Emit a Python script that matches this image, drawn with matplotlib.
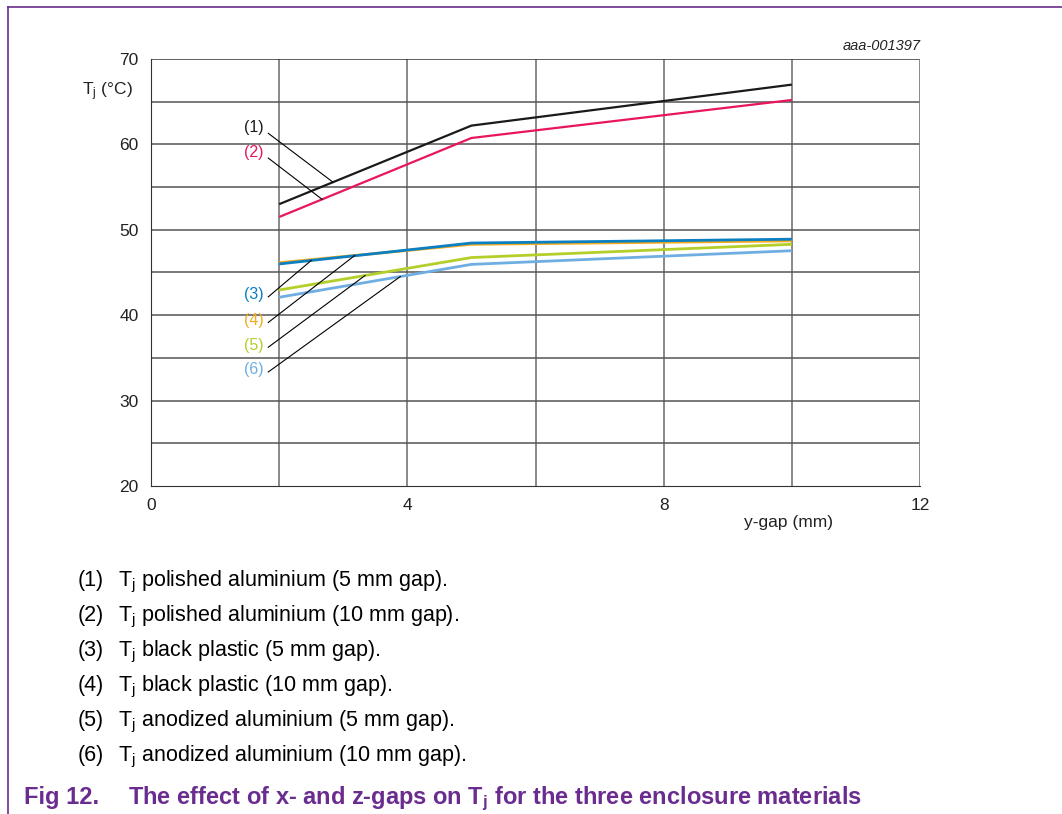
import numpy as np
import matplotlib
matplotlib.use('Agg')
import matplotlib.pyplot as plt
from matplotlib.lines import Line2D

plt.rcParams['font.family'] = ['Liberation Sans', 'DejaVu Sans']
plt.rcParams['mathtext.default'] = 'regular'

# data
gap = [2, 5, 10]
series = {
    '(1)': [53.0, 62.2, 67.0],
    '(2)': [51.5, 60.75, 65.2],
    '(3)': [46.0, 48.45, 48.9],
    '(4)': [46.15, 48.3, 48.7],
    '(5)': [42.95, 46.75, 48.3],
    '(6)': [42.1, 45.95, 47.55],
}
colors = ['#1a1a1a', '#e8175d', '#0a7fc1', '#f5ab1e', '#b5cf2a', '#6eaee2']
label_y = [62.0, 59.1, 42.4, 39.4, 36.5, 33.6]
leader_x = [2.84, 2.67, 2.50, 3.18, 3.34, 3.89]
descriptions = [
    'polished aluminium (5 mm gap).',
    'polished aluminium (10 mm gap).',
    'black plastic (5 mm gap).',
    'black plastic (10 mm gap).',
    'anodized aluminium (5 mm gap).',
    'anodized aluminium (10 mm gap).',
]

fig = plt.figure(figsize=(10.62, 8.14), dpi=100)
ax = fig.add_axes([151/1062, 1-486/814, (920-151)/1062, (486-59)/814])

ax.set_xlim(0, 12)
ax.set_ylim(20, 70)
for v in range(2, 12, 2):
    ax.axvline(v, color='#808080', lw=1.3, zorder=1)
for h in range(25, 70, 5):
    ax.axhline(h, color='#555555', lw=1.1, zorder=1)
for s in ax.spines.values():
    s.set_visible(False)
ax.spines['left'].set_visible(True)
ax.spines['bottom'].set_visible(True)
ax.spines['left'].set_color('#333333')
ax.spines['bottom'].set_color('#333333')
ax.axhline(70, color='#333333', lw=1.1)
ax.axvline(12, color='#808080', lw=1.3)

ax.set_xticks([0, 4, 8, 12])
ax.set_yticks([20, 30, 40, 50, 60, 70])
ax.tick_params(length=0, labelsize=12.5, colors='#222222', pad=9)

# draw order: lower lines first so blue sits on orange
order = ['(6)', '(5)', '(4)', '(3)', '(2)', '(1)']
keys = list(series.keys())
for k in order:
    i = keys.index(k)
    ax.plot(gap, series[k], color=colors[i], lw=2.0 if i >= 2 else 1.6,
            zorder=3, solid_capstyle='butt')

for i, k in enumerate(keys):
    ax.text(1.76, label_y[i], k, color=colors[i], ha='right', va='center',
            fontsize=11.5)
    ty = np.interp(leader_x[i], gap, series[k])
    ax.plot([1.83, leader_x[i]], [label_y[i] - 0.7 + (0.45 if i >= 2 else 0), ty],
            color='black', lw=0.8, zorder=4)

fig.text(133/1062, 1-92/814, 'T$_j$ (°C)', ha='right', va='center',
         fontsize=12.5, color='#222222')
fig.text(833/1062, 1-523/814, 'y-gap (mm)', ha='right', va='center',
         fontsize=12.5, color='#222222')
fig.text(921/1062, 1-46/814, 'aaa-001397', ha='right', va='center',
         fontsize=10.5, style='italic', color='#222222')

for i, d in enumerate(descriptions):
    y = 1 - (586 + 35*i)/814
    fig.text(78/1062, y, '(%d)' % (i+1), ha='left', va='baseline', fontsize=15.5)
    fig.text(118/1062, y, 'T$_j$ ' + d, ha='left', va='baseline', fontsize=15.5)

purple = '#6a2c8f'
fig.text(24/1062, 1-804/814, 'Fig 12.',
         ha='left', va='baseline', fontsize=17.0, fontweight='bold', color=purple)
fig.text(128/1062, 1-804/814,
         'The effect of x- and z-gaps on T$_j$ for the three enclosure materials',
         ha='left', va='baseline', fontsize=17.0, fontweight='bold', color=purple)

fig.add_artist(Line2D([8/1062, 1], [1-7/814, 1-7/814], color=purple, lw=1.2))
fig.add_artist(Line2D([8/1062, 8/1062], [0, 1-7/814], color=purple, lw=1.2))

fig.savefig('out.png', dpi=100)
